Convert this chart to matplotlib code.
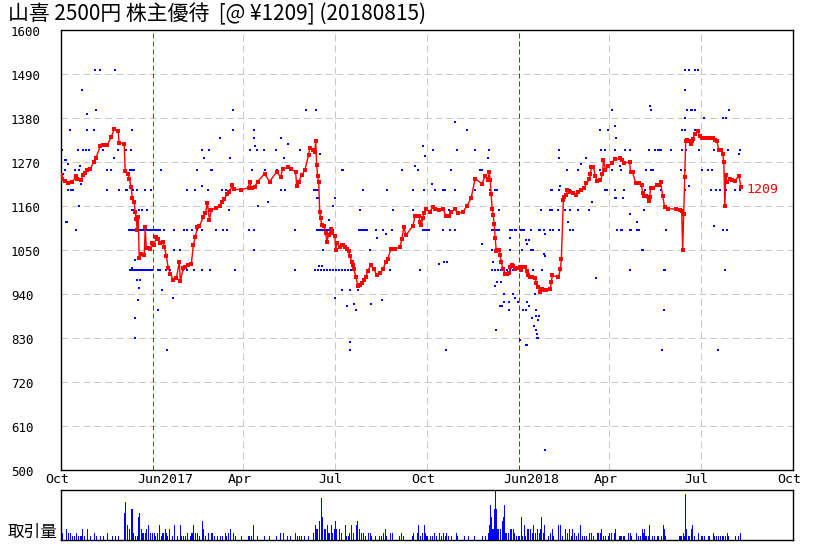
import matplotlib
matplotlib.use("Agg")
import matplotlib.pyplot as plt
import matplotlib.transforms as mtransforms

# --- data (x = days since 2016-10-01) ---
title = "山喜 2500円 株主優待  [@ ¥1209] (20180815)"
last_label = "1209"

tick_days = [0, 92, 182, 273, 365, 457, 547, 638, 730]
tick_labels = ["Oct", "Jun2017", "Apr", "Jul", "Oct", "Jun2018", "Apr", "Jul", "Oct"]
year_days = [92, 457]
grid_days = [182, 273, 365, 547, 638]
y_ticks = [500, 610, 720, 830, 940, 1050, 1160, 1270, 1380, 1490, 1600]

# 終値 (day, price)
close_pts = [
    (0, 1238), (1, 1227), (4, 1223), (7, 1217), (11, 1220), (15, 1234), (16, 1227), (20, 1225),
    (22, 1238), (24, 1242), (26, 1250), (29, 1253), (33, 1271), (35, 1281), (39, 1309), (42, 1312),
    (46, 1312), (50, 1332), (53, 1352), (57, 1347), (58, 1318), (63, 1315), (64, 1248), (67, 1241),
    (68, 1228), (70, 1207), (71, 1181), (73, 1171), (74, 1145), (75, 1128), (76, 1101), (77, 1133),
    (78, 1031), (80, 1041), (83, 1038), (84, 1107), (85, 1056), (87, 1056), (89, 1053), (91, 1067),
    (93, 1063), (95, 1082), (97, 1079), (99, 1067), (102, 1070), (103, 1059), (105, 1036), (107, 1005),
    (109, 991), (112, 976), (115, 980), (118, 1020), (119, 973), (122, 1005), (124, 1009), (127, 1012),
    (130, 1016), (132, 1063), (134, 1084), (136, 1107), (138, 1110), (142, 1133), (144, 1142), (146, 1169),
    (148, 1126), (150, 1151), (155, 1156), (159, 1160), (161, 1171), (163, 1179), (166, 1191), (168, 1196),
    (171, 1212), (173, 1202), (180, 1201), (187, 1206), (188, 1221), (190, 1206), (193, 1208), (196, 1221),
    (203, 1241), (208, 1221), (215, 1246), (219, 1232), (221, 1252), (226, 1257), (229, 1252), (234, 1246),
    (235, 1211), (237, 1221), (240, 1237), (243, 1249), (247, 1288), (248, 1305), (251, 1301), (253, 1296),
    (254, 1322), (255, 1262), (256, 1234), (257, 1221), (258, 1145), (259, 1130), (260, 1114), (262, 1111),
    (264, 1094), (265, 1071), (267, 1089), (269, 1103), (270, 1094), (273, 1086), (274, 1050), (275, 1068),
    (278, 1059), (280, 1064), (281, 1064), (283, 1059), (285, 1052), (287, 1047), (288, 1036), (290, 1021),
    (291, 1012), (292, 1002), (294, 984), (296, 961), (298, 963), (300, 969), (302, 976), (304, 982),
    (306, 999), (309, 1012), (312, 1002), (315, 987), (318, 992), (321, 1002), (324, 1021), (326, 1029),
    (329, 1053), (333, 1053), (338, 1057), (340, 1078), (342, 1109), (344, 1087), (351, 1111), (353, 1135),
    (357, 1135), (358, 1121), (359, 1113), (361, 1130), (362, 1142), (364, 1153), (368, 1146), (371, 1159),
    (373, 1154), (377, 1151), (381, 1152), (384, 1136), (387, 1136), (389, 1146), (393, 1152), (396, 1142),
    (401, 1146), (405, 1161), (409, 1180), (413, 1228), (420, 1216), (423, 1236), (426, 1226), (427, 1244),
    (428, 1226), (429, 1191), (430, 1152), (431, 1138), (432, 1115), (433, 1081), (434, 1049), (435, 1050),
    (437, 1050), (438, 1037), (439, 1020), (441, 1002), (443, 991), (445, 991), (447, 992), (448, 1007),
    (450, 1012), (451, 1010), (453, 1002), (455, 1005), (458, 1007), (459, 1000), (461, 1009), (463, 1007),
    (465, 997), (466, 988), (468, 983), (470, 982), (473, 980), (474, 969), (476, 957), (478, 946),
    (480, 954), (482, 951), (484, 950), (488, 954), (489, 971), (490, 987), (496, 982), (498, 1002),
    (499, 1028), (501, 1176), (502, 1183), (504, 1188), (505, 1201), (508, 1196), (511, 1194), (514, 1188),
    (516, 1196), (519, 1201), (522, 1205), (524, 1217), (527, 1227), (528, 1241), (529, 1257), (531, 1257),
    (533, 1234), (535, 1222), (538, 1226), (540, 1239), (541, 1276), (543, 1251), (546, 1259), (549, 1267),
    (552, 1277), (557, 1279), (559, 1276), (561, 1268), (567, 1270), (568, 1246), (570, 1244), (573, 1219),
    (576, 1217), (579, 1213), (580, 1192), (581, 1186), (583, 1186), (586, 1174), (587, 1184), (588, 1205),
    (590, 1206), (594, 1213), (596, 1213), (598, 1220), (600, 1186), (602, 1157), (605, 1153), (613, 1153),
    (617, 1150), (619, 1147), (620, 1051), (621, 1141), (622, 1233), (623, 1323), (624, 1324), (626, 1323),
    (628, 1316), (629, 1322), (630, 1328), (632, 1341), (635, 1347), (637, 1335), (639, 1330), (642, 1330),
    (646, 1329), (650, 1331), (652, 1325), (654, 1323), (656, 1301), (658, 1301), (660, 1290), (661, 1269),
    (662, 1161), (663, 1238), (664, 1221), (667, 1229), (669, 1226), (672, 1223), (676, 1236), (678, 1209),
]
price_day = [d for d, p in close_pts]
price_close = [p for d, p in close_pts]

# 気配値 (price level -> days)
quote_days = {
    1500: [34, 39, 54, 622, 626, 632, 635],
    1450: [21, 622],
    1410: [587],
    1400: [35, 172, 244, 254, 549, 588, 624, 628, 629, 632, 666],
    1390: [26],
    1380: [622, 641, 660, 663],
    1370: [393],
    1360: [552],
    1350: [9, 26, 33, 71, 172, 192, 405, 538, 546, 619, 622, 632],
    1330: [159, 192, 219, 553],
    1315: [226],
    1310: [193, 361],
    1300: [1, 17, 22, 25, 28, 42, 57, 65, 70, 141, 148, 188, 195, 202, 214, 238, 371, 395, 413, 427,
           497, 539, 543, 552, 562, 567, 586, 592, 595, 597, 598, 608, 619, 623, 636, 651, 656, 665, 677],
    1290: [258, 676],
    1285: [363],
    1280: [53, 143, 169, 222, 426, 497, 524],
    1275: [4, 5],
    1265: [7, 519],
    1260: [19, 353, 557],
    1250: [4, 14, 18, 46, 50, 69, 71, 73, 100, 136, 150, 151, 190, 203, 215, 243, 280, 281, 340, 356,
           389, 418, 420, 505, 516, 538, 549, 558, 583, 588, 590, 618, 622, 639, 645, 649],
    1240: [2],
    1230: [426],
    1215: [20, 370],
    1210: [141, 498, 626],
    1200: [7, 10, 12, 46, 58, 65, 66, 72, 76, 84, 90, 126, 134, 147, 161, 165, 169, 219, 223, 252,
           254, 256, 301, 325, 351, 362, 373, 381, 383, 393, 413, 428, 433, 435, 489, 490, 497, 505,
           508, 543, 545, 552, 561, 582, 598, 622, 648, 653, 657, 663, 672, 677],
    1180: [255, 257, 273, 552, 553, 560],
    1170: [206, 530],
    1160: [18, 196, 271],
    1150: [71, 72, 78, 81, 86, 168, 298, 331, 351, 387, 437, 479, 488, 490, 496, 503, 508, 516, 527, 581],
    1140: [567],
    1125: [267],
    1120: [5, 6, 506, 574],
    1110: [651],
    1100: [15, 68, 69, 71, 73, 75, 77, 79, 81, 83, 85, 87, 89, 91, 93, 94, 95, 97, 99, 103, 113, 123,
           126, 131, 136, 141, 155, 162, 166, 187, 192, 233, 255, 257, 259, 261, 263, 265, 267, 269,
           271, 297, 299, 301, 303, 305, 314, 321, 330, 361, 363, 365, 367, 381, 388, 393, 430, 431,
           433, 435, 437, 448, 450, 453, 454, 459, 460, 461, 462, 469, 477, 478, 482, 488, 491, 497,
           508, 511, 554, 558, 559, 567, 568, 574, 575, 576, 603, 660, 664],
    1090: [324, 483],
    1080: [315, 448],
    1075: [464, 467],
    1065: [420, 465],
    1050: [113, 119, 192, 261, 308, 430, 448, 460, 469, 471, 579, 580],
    1040: [482],
    1035: [483],
    1025: [74],
    1020: [382, 385, 431],
    1015: [377],
    1010: [257, 260],
    1005: [71],
    1000: [69, 71, 73, 75, 77, 79, 81, 83, 85, 87, 89, 91, 97, 99, 105, 109, 122, 126, 133, 141, 149,
           174, 233, 253, 256, 259, 262, 265, 268, 271, 274, 277, 280, 283, 286, 289, 291, 328, 358,
           430, 433, 436, 439, 442, 445, 448, 451, 454, 471, 480, 567, 601, 602, 662],
    980: [534],
    975: [76, 79],
    970: [435, 439],
    960: [433],
    955: [78],
    950: [101, 280, 288, 296],
    940: [442, 451, 473],
    930: [112, 273, 453],
    925: [77, 320],
    920: [442, 447, 456, 465],
    915: [292, 309],
    910: [285, 438, 439, 440, 467],
    900: [97, 294, 447, 461, 464, 474, 601],
    885: [474, 477],
    880: [74, 470],
    875: [476],
    860: [472],
    850: [434, 474],
    840: [475],
    830: [74, 475, 476],
    825: [458],
    820: [288],
    812: [464, 465],
    800: [106, 288, 384, 599, 655],
    550: [483],
}

# 取引量 (day, 100株単位)
volume_pts = [
    (0, 5), (1, 2), (5, 3), (7, 2), (9, 2), (11, 1), (13, 1), (15, 2), (17, 1), (19, 1), (20, 1),
    (21, 3), (23, 1), (26, 3), (29, 1), (33, 2), (35, 1), (39, 1), (42, 1), (46, 2), (51, 1), (54, 1),
    (57, 1), (63, 7), (64, 10), (66, 4), (68, 3), (70, 8), (71, 8), (72, 2), (74, 1), (76, 1), (77, 6),
    (78, 7), (80, 3), (81, 2), (82, 2), (84, 2), (85, 3), (87, 4), (89, 2), (91, 2), (93, 2), (94, 1),
    (96, 2), (98, 4), (100, 1), (101, 2), (102, 2), (104, 3), (105, 2), (106, 1), (108, 3), (111, 1),
    (113, 4), (116, 1), (119, 4), (120, 1), (122, 1), (124, 1), (126, 2), (129, 1), (130, 2), (131, 2),
    (132, 4), (134, 2), (136, 2), (138, 1), (141, 5), (142, 3), (144, 1), (147, 2), (150, 2), (151, 2),
    (153, 1), (156, 1), (159, 1), (161, 1), (164, 2), (165, 1), (167, 2), (169, 3), (172, 2), (174, 1),
    (180, 1), (187, 1), (188, 1), (190, 1), (192, 4), (196, 1), (203, 1), (208, 1), (215, 1), (219, 2),
    (222, 2), (226, 1), (229, 1), (234, 2), (236, 1), (238, 1), (240, 1), (243, 1), (247, 1), (252, 2),
    (254, 4), (255, 3), (256, 3), (258, 5), (260, 11), (261, 6), (263, 3), (264, 3), (266, 4), (267, 2),
    (268, 2), (270, 4), (271, 2), (273, 3), (274, 5), (275, 3), (278, 3), (280, 2), (284, 4), (285, 1),
    (287, 1), (288, 2), (290, 4), (292, 2), (295, 4), (296, 5), (298, 3), (300, 2), (302, 2), (304, 1),
    (307, 2), (309, 2), (310, 1), (314, 1), (318, 1), (320, 1), (322, 2), (324, 3), (325, 1), (329, 2),
    (331, 2), (338, 1), (340, 2), (342, 1), (351, 1), (352, 2), (356, 2), (357, 4), (359, 1), (361, 2),
    (363, 4), (364, 2), (365, 1), (368, 1), (370, 1), (372, 2), (374, 1), (377, 2), (379, 1), (381, 2),
    (383, 1), (384, 2), (386, 1), (389, 1), (394, 2), (395, 1), (402, 1), (406, 1), (412, 1), (420, 1),
    (423, 1), (426, 2), (427, 4), (428, 9), (429, 6), (430, 3), (431, 3), (432, 8), (433, 13), (434, 8),
    (435, 3), (436, 3), (438, 3), (440, 5), (441, 6), (442, 9), (443, 2), (444, 2), (446, 2), (448, 3),
    (449, 3), (451, 3), (452, 2), (454, 1), (456, 1), (457, 1), (459, 6), (460, 1), (462, 4), (463, 1),
    (465, 3), (466, 3), (468, 3), (470, 2), (471, 4), (473, 2), (475, 3), (477, 2), (478, 3), (479, 6),
    (481, 2), (482, 4), (486, 1), (488, 2), (490, 3), (491, 1), (496, 4), (498, 4), (500, 1), (503, 3),
    (505, 2), (507, 3), (509, 1), (510, 3), (512, 2), (514, 1), (516, 2), (518, 4), (520, 1), (522, 1),
    (524, 1), (527, 2), (529, 2), (531, 1), (535, 2), (536, 2), (538, 2), (539, 3), (541, 1), (543, 1),
    (546, 1), (547, 2), (549, 2), (552, 2), (553, 3), (557, 1), (558, 1), (559, 1), (561, 1), (562, 1),
    (566, 2), (568, 2), (569, 1), (574, 2), (576, 1), (578, 1), (580, 3), (581, 2), (582, 3), (583, 1),
    (584, 1), (586, 1), (587, 4), (590, 1), (592, 1), (595, 1), (596, 1), (599, 1), (601, 4), (602, 3),
    (603, 1), (617, 1), (618, 1), (619, 1), (621, 2), (622, 1), (623, 12), (624, 3), (626, 1), (627, 1),
    (629, 3), (630, 4), (632, 1), (636, 2), (639, 1), (640, 1), (642, 1), (646, 1), (647, 1), (651, 2),
    (652, 1), (654, 1), (656, 1), (658, 1), (660, 1), (661, 1), (663, 1), (665, 2), (666, 1), (673, 1),
    (676, 1), (678, 2),
]
vol_day = [d for d, v in volume_pts]
vol_lots = [v for d, v in volume_pts]

# --- figure ---
W, H = 829, 551
fig = plt.figure(figsize=(W / 100, H / 100), dpi=100)
fig.patch.set_facecolor("white")

ax = fig.add_axes([61 / W, (H - 470.3) / H, 732 / W, 440.3 / H])
axv = fig.add_axes([61 / W, (H - 540.3) / H, 732 / W, 50.3 / H])

mono = "DejaVu Sans Mono"
jp = ["Noto Sans CJK JP", "DejaVu Sans"]

ax.set_xlim(0, 730)
ax.set_ylim(500, 1600)
ax.set_xticks([])
ax.set_yticks([])

# grid
for y in y_ticks[1:-1]:
    ax.axhline(y, color="#c8c8c8", lw=0.72, dashes=(7, 4), zorder=1)
for d in grid_days:
    ax.axvline(d, color="#c8c8c8", lw=0.72, dashes=(7, 4), zorder=1)
for d in year_days:
    ax.axvline(d, color="#dd0000", lw=0.72, dashes=(5, 3), zorder=1)

# quotes
for level, days in quote_days.items():
    ax.scatter(days, [level] * len(days), s=1.1, marker="s", color="#0000ff",
               linewidths=0, zorder=2)

# close line
ax.plot(price_day, price_close, color="#ff0000", lw=1.0, marker="s", markersize=2.6,
        markeredgewidth=0, zorder=3)

ax.text(price_day[-1], price_close[-1], last_label, color="#ff0000", fontsize=9.5,
        family=mono, ha="left", va="center",
        transform=mtransforms.offset_copy(ax.transData, fig=fig, x=6, y=-3, units="dots"))

# axis labels
ytr = mtransforms.offset_copy(ax.get_yaxis_transform(), fig=fig, x=-50, y=-2.5, units="dots")
for y in y_ticks:
    ax.text(0, y, str(y), transform=ytr, ha="left", va="center", fontsize=9, family=mono,
            clip_on=False)

xtr = mtransforms.offset_copy(ax.get_xaxis_transform(), fig=fig, x=-16, y=-3, units="dots")
for d, lab in zip(tick_days, tick_labels):
    ax.text(d, 0, lab, transform=xtr, ha="left", va="top", fontsize=9.5, family=mono,
            clip_on=False)

for sp in ax.spines.values():
    sp.set_linewidth(1.0)
    sp.set_color("black")

# volume
axv.bar(vol_day, vol_lots, width=1.0, color="#0000ff", linewidth=0, align="center",
        antialiased=False)
axv.set_xlim(0, 730)
axv.set_ylim(0, 13)
axv.set_xticks([])
axv.set_yticks([])
for sp in axv.spines.values():
    sp.set_linewidth(1.0)
    sp.set_color("black")

fig.text(8 / W, 1 - 532 / H, "取引量", fontsize=12, family=jp, ha="left", va="center")
fig.text(8 / W, 1 - 14 / H, title, fontsize=15, family=jp, ha="left", va="center")

fig.savefig("out.png", dpi=100)
